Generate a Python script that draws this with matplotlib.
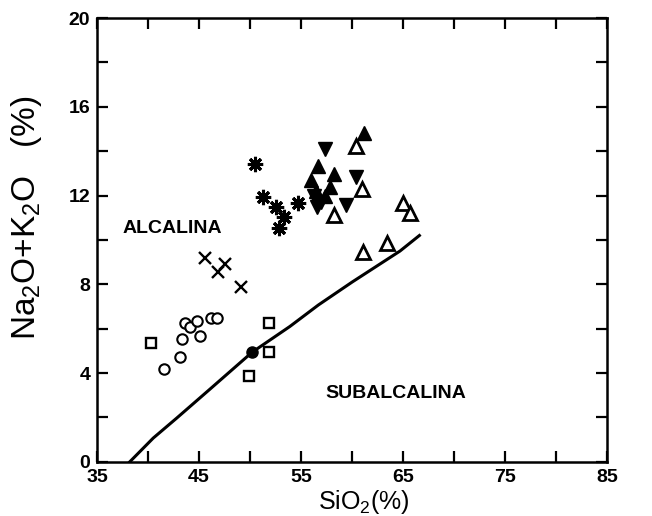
import matplotlib
matplotlib.use("Agg")
import matplotlib.pyplot as plt
from matplotlib.ticker import FixedLocator

plt.rcParams['font.family'] = ['Liberation Sans', 'DejaVu Sans']
plt.rcParams['mathtext.default'] = 'regular'

# SiO2 / total alkali data per rock group
circ_x = [41.6, 43.1, 43.3, 43.6, 44.1, 44.8, 45.1, 46.2, 46.8]
circ_y = [4.20, 4.74, 5.54, 6.25, 6.07, 6.35, 5.69, 6.47, 6.50]
sq_x = [40.3, 49.9, 51.9, 51.9]
sq_y = [5.35, 3.89, 4.97, 6.25]
dot_x = [50.2]
dot_y = [4.93]
cross_x = [45.6, 47.5, 46.9, 49.1]
cross_y = [9.18, 8.92, 8.55, 7.90]
ast_x = [50.5, 51.3, 52.5, 53.3, 52.8, 54.7]
ast_y = [13.41, 11.95, 11.47, 11.05, 10.53, 11.68]
up_f_x = [56.7, 58.2, 56.0, 57.8, 56.5, 57.3, 61.2]
up_f_y = [13.33, 12.97, 12.70, 12.40, 12.20, 12.00, 14.80]
dn_f_x = [57.35, 60.4, 59.4, 56.3, 57.0, 56.6]
dn_f_y = [14.10, 12.85, 11.58, 12.00, 11.70, 11.50]
up_o_x = [60.4, 61.0, 58.2, 65.0, 65.7, 63.4, 61.1]
up_o_y = [14.25, 12.28, 11.13, 11.68, 11.20, 9.88, 9.46]

# alkaline / subalkaline dividing line
div_x = [38.2, 40.5, 42.8, 46.0, 50.2, 53.9, 56.7, 60.0, 64.7, 66.6]
div_y = [0.0, 1.07, 1.97, 3.25, 4.94, 6.10, 7.07, 8.10, 9.50, 10.20]

x_major = [35, 45, 55, 65, 75, 85]
x_minor = [40, 50, 60, 70, 80]
y_major = [0, 4, 8, 12, 16, 20]
y_minor = [2, 6, 10, 14, 18]

fig = plt.figure(figsize=(6.52, 5.16), dpi=100)
ax = fig.add_axes([0.149, 0.105, 0.782, 0.860])

ax.plot(div_x, div_y, color='black', lw=2.2, zorder=2)

mk = dict(linestyle='none', color='black', zorder=3)
ax.plot(circ_x, circ_y, marker='o', ms=7.5, mfc='white', mew=1.5, **mk)
ax.plot(sq_x, sq_y, marker='s', ms=7.5, mfc='white', mew=1.7, **mk)
ax.plot(dot_x, dot_y, marker='o', ms=8, **mk)
ax.plot(cross_x, cross_y, marker='x', ms=9, mew=1.7, **mk)
ax.plot(ast_x, ast_y, marker=(8, 2, 0), ms=11, mew=2.2, **mk)
ax.plot(ast_x, ast_y, marker='o', ms=5, **mk)
ax.plot(up_f_x, up_f_y, marker='^', ms=10, **mk)
ax.plot(dn_f_x, dn_f_y, marker='v', ms=10, **mk)
ax.plot(up_o_x, up_o_y, marker='^', ms=10, mfc='white', mew=2.0, **mk)

ax.text(37.5, 10.5, 'ALCALINA', fontsize=14, fontweight='bold', va='center')
ax.text(57.4, 3.1, 'SUBALCALINA', fontsize=14, fontweight='bold', va='center')

ax.set_xlim(35, 85)
ax.set_ylim(0, 20)
ax.xaxis.set_major_locator(FixedLocator(x_major))
ax.xaxis.set_minor_locator(FixedLocator(x_minor))
ax.yaxis.set_major_locator(FixedLocator(y_major))
ax.yaxis.set_minor_locator(FixedLocator(y_minor))
ax.tick_params(which='both', direction='in', top=True, right=True,
               length=8, width=1.6)
ax.tick_params(axis='x', which='major', labelsize=14, pad=5)
ax.tick_params(axis='y', which='major', labelsize=14, pad=5)
for lab in ax.get_xticklabels() + ax.get_yticklabels():
    lab.set_fontweight('bold')
for s in ax.spines.values():
    s.set_linewidth(1.8)

ax.set_xlabel('SiO$_2$(%)', fontsize=18)
ax.xaxis.set_label_coords(0.523, -0.058)
ax.set_ylabel('Na$_2$O+K$_2$O   (%)', fontsize=24)
ax.yaxis.set_label_coords(-0.105, 0.55)

fig.savefig('out.png', dpi=100)
